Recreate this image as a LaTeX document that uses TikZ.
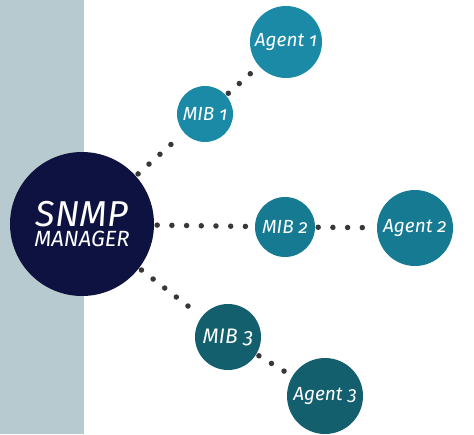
\documentclass[tikz,border=0pt]{standalone}
\usepackage{fontspec}
\newfontfamily\snmpfont[Numbers=OldStyle]{Fira Sans}
\usepackage{tikz}
\usetikzlibrary{positioning}

\definecolor{bandgray}{HTML}{B7CAD0}
\definecolor{mgrnavy}{HTML}{0D1240}
\definecolor{tealA}{HTML}{1A8AA7}
\definecolor{tealB}{HTML}{167A92}
\definecolor{tealC}{HTML}{145F6D}

\begin{document}
\begin{tikzpicture}[
    x=1pt,
    y=-1pt,
    font=\snmpfont\itshape,
    ball/.style={
        circle,
        inner sep=0pt,
        text=white,
        align=center
    },
    mgr/.style={ball, fill=mgrnavy, minimum size=144pt},
    mib/.style={ball, minimum size=58pt, font=\snmpfont\itshape\fontsize{19}{21}\selectfont},
    agent/.style={ball, minimum size=75pt, font=\snmpfont\itshape\fontsize{19}{21}\selectfont},
    dots/.style={
        draw=black!78,
        line width=5.5pt,
        line cap=round,
        dash pattern=on 0pt off 14.7pt,
        shorten <=3pt,
        shorten >=3pt
    }
]
\useasboundingbox (0,0) rectangle (474,434);

% left band
\fill[bandgray] (0,0) rectangle (84,434);

% manager
\node[mgr] (manager) at (82,224)
{{\fontsize{36}{36}\selectfont SNMP}\\[3pt]
{\fontsize{22}{22}\selectfont MANAGER}};

% MIBs
\node[mib, fill=tealA, minimum size=56pt] (mib1) at (205,114) {MIB 1};
\node[mib, fill=tealB, minimum size=60pt] (mib2) at (285,227) {MIB 2};
\node[mib, fill=tealC, minimum size=66pt, font=\snmpfont\itshape\fontsize{21}{23}\selectfont] (mib3) at (228,337) {MIB 3};

% agents
\node[agent, fill=tealA, minimum size=72pt] (agent1) at (286,42) {Agent 1};
\node[agent, fill=tealB, minimum size=76pt] (agent2) at (415,228) {Agent 2};
\node[agent, fill=tealC, minimum size=76pt] (agent3) at (325,396) {Agent 3};

% dotted links
\draw[dots] (manager) -- (mib1);
\draw[dots] (manager) -- (mib2);
\draw[dots] (manager) -- (mib3);
\draw[dots] (mib1) -- (agent1);
\draw[dots] (mib2) -- (agent2);
\draw[dots] (mib3) -- (agent3);

\end{tikzpicture}
\end{document}
